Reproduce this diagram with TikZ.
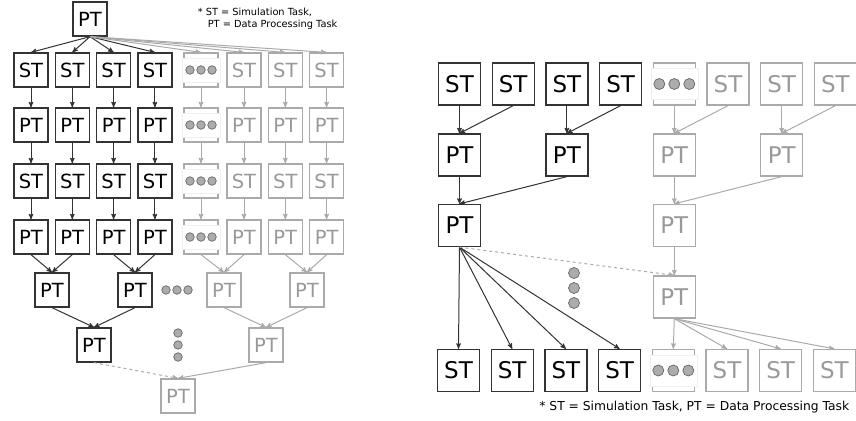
\documentclass[tikz,border=0pt]{standalone}
\usepackage{fontspec}
\setmainfont{DejaVu Sans}
\usepackage{tikz}
\usetikzlibrary{arrows,positioning}

\definecolor{ink}{HTML}{333333}
\definecolor{ghost}{HTML}{AAAAAA}
\definecolor{ghosttext}{HTML}{999999}

\begin{document}
\begin{tikzpicture}[x=1pt,y=1pt,>=stealth',line width=1pt]
        \tikzstyle{box}=[draw=ink,line width=1.3pt,minimum size=34pt,inner sep=0pt,font=\fontsize{19.5}{20}\selectfont]
        \tikzstyle{bigbox}=[box,minimum size=42pt,font=\fontsize{23}{24}\selectfont]
        \tikzstyle{faded}=[draw=ghost,text=ghosttext]
        \tikzstyle{blank}=[box,faded]
        \tikzstyle{bigblank}=[bigbox,faded]
        \tikzstyle{arr}=[->,color=ink]
        \tikzstyle{garr}=[->,color=ghost]
        \tikzstyle{dot}=[circle,draw=gray!80!black,fill=gray!65,line width=0.7pt,inner sep=0pt]
        \tikzstyle{hole}=[draw=gray!12,fill=white,line width=0.5pt,inner sep=0pt]

        \useasboundingbox (0,0) rectangle (856,-420);

        % left: tree of tasks
        \node[box]    (L00) at (90,-19)           {PT};
        \node[anchor=west,font=\fontsize{9.8}{10}\selectfont] (N01) at (194,-12) {* ST = Simulation Task,};
        \node[anchor=west,font=\fontsize{9.8}{10}\selectfont] (N02) at (204,-25) {PT = Data Processing Task};

        \begin{scope}[node distance=41.3]
        \node[box]    (L11) at (31,-70)           {ST};
        \node[box]    (L12) [right of=L11]        {ST};
        \node[box]    (L13) [right of=L12]        {ST};
        \node[box]    (L14) [right of=L13]        {ST};
        \node[blank]  (L15) at (201,-70)          { }; % dots
        \node[blank]  (L16) at (244,-70)          {ST};
        \node[blank]  (L17) [right of=L16]        {ST};
        \node[blank]  (L18) [right of=L17]        {ST};

        \node[box]    (L21) at (31,-125)          {PT};
        \node[box]    (L22) [right of=L21]        {PT};
        \node[box]    (L23) [right of=L22]        {PT};
        \node[box]    (L24) [right of=L23]        {PT};
        \node[blank]  (L25) at (201,-125)         { }; % dots
        \node[blank]  (L26) at (244,-125)         {PT};
        \node[blank]  (L27) [right of=L26]        {PT};
        \node[blank]  (L28) [right of=L27]        {PT};

        \node[box]    (L31) at (31,-181)          {ST};
        \node[box]    (L32) [right of=L31]        {ST};
        \node[box]    (L33) [right of=L32]        {ST};
        \node[box]    (L34) [right of=L33]        {ST};
        \node[blank]  (L35) at (201,-181)         { }; % dots
        \node[blank]  (L36) at (244,-181)         {ST};
        \node[blank]  (L37) [right of=L36]        {ST};
        \node[blank]  (L38) [right of=L37]        {ST};

        \node[box]    (L41) at (31,-237)          {PT};
        \node[box]    (L42) [right of=L41]        {PT};
        \node[box]    (L43) [right of=L42]        {PT};
        \node[box]    (L44) [right of=L43]        {PT};
        \node[blank]  (L45) at (201,-237)         { }; % dots
        \node[blank]  (L46) at (244,-237)         {PT};
        \node[blank]  (L47) [right of=L46]        {PT};
        \node[blank]  (L48) [right of=L47]        {PT};
        \end{scope}

        \node[box]    (L51) at (52,-290)          {PT};
        \node[box]    (L52) at (135,-290)         {PT};
        \node[blank]  (L53) at (224,-290)         {PT};
        \node[blank]  (L54) at (307,-290)         {PT};
        \node[box]    (L61) at (94,-345)          {PT};
        \node[blank]  (L62) at (266,-345)         {PT};
        \node[blank]  (L71) at (178,-396)         {PT};

        % dots over the faded columns
        \foreach \n in {L15,L25,L35,L45} {
          \node[hole,minimum width=38pt,minimum height=24pt] at (\n) {};
          \node[dot,minimum size=8.5pt] at ([xshift=-11pt]\n.center) {};
          \node[dot,minimum size=8.5pt] at (\n.center) {};
          \node[dot,minimum size=8.5pt] at ([xshift=11pt]\n.center) {};
        }
        \node[dot,minimum size=8.5pt] (D01) at (166,-290) {};
        \node[dot,minimum size=8.5pt] (D02) at (177,-290) {};
        \node[dot,minimum size=8.5pt] (D03) at (188,-290) {};
        \node[dot,minimum size=8.5pt] (D04) at (178,-333) {};
        \node[dot,minimum size=8.5pt] (D05) at (178,-345) {};
        \node[dot,minimum size=8.5pt] (D06) at (178,-357) {};

        \path[arr]
                  (L00.south) edge (L11.north)
                              edge (L12.north)
                              edge (L13.north)
                              edge (L14.north)
                  (L11) edge (L21) (L21) edge (L31) (L31) edge (L41)
                  (L12) edge (L22) (L22) edge (L32) (L32) edge (L42)
                  (L13) edge (L23) (L23) edge (L33) (L33) edge (L43)
                  (L14) edge (L24) (L24) edge (L34) (L34) edge (L44)
                  (L41.south) edge (L51.north)
                  (L42.south) edge (L51.north)
                  (L43.south) edge (L52.north)
                  (L44.south) edge (L52.north)
                  (L51.south) edge (L61.north)
                  (L52.south) edge (L61.north);
        \path[garr]
                  (L00.south) edge (L15.north)
                              edge (L16.north)
                              edge (L17.north)
                              edge (L18.north)
                  (L15) edge (L25) (L25) edge (L35) (L35) edge (L45)
                  (L16) edge (L26) (L26) edge (L36) (L36) edge (L46)
                  (L17) edge (L27) (L27) edge (L37) (L37) edge (L47)
                  (L18) edge (L28) (L28) edge (L38) (L38) edge (L48)
                  (L45.south) edge (L53.north)
                  (L46.south) edge (L53.north)
                  (L47.south) edge (L54.north)
                  (L48.south) edge (L54.north)
                  (L53.south) edge (L62.north)
                  (L54.south) edge (L62.north)
                  (L62.south) edge (L71.north)
                  (L61.south) edge [dashed] (L71.north);

        % right: chain of tasks
        \begin{scope}[node distance=53.7]
        \node[bigbox]   (R11) at (459.5,-84)      {ST};
        \node[bigbox]   (R12) [right of=R11]      {ST};
        \node[bigbox]   (R13) [right of=R12]      {ST};
        \node[bigbox]   (R14) [right of=R13]      {ST};
        \node[bigblank] (R15) [right of=R14]      { }; % dots
        \node[bigblank] (R16) [right of=R15]      {ST};
        \node[bigblank] (R17) [right of=R16]      {ST};
        \node[bigblank] (R18) [right of=R17]      {ST};

        \node[bigbox]   (R21) at (R11 |- 0,-155)  {PT};
        \node[bigbox]   (R22) at (R13 |- R21)     {PT};
        \node[bigblank] (R23) at (R15 |- R21)     {PT};
        \node[bigblank] (R24) at (R17 |- R21)     {PT};

        \node[bigbox]   (R31) at (R11 |- 0,-225.5) {PT};
        \node[bigblank] (R32) at (R15 |- R31)     {PT};
        \node[bigblank] (R41) at (R15 |- 0,-297)  {PT};

        \node[bigbox]   (R51) at (458.5,-370.5)   {ST};
        \node[bigbox]   (R52) [right of=R51]      {ST};
        \node[bigbox]   (R53) [right of=R52]      {ST};
        \node[bigbox]   (R54) [right of=R53]      {ST};
        \node[bigblank] (R55) [right of=R54]      { }; % dots
        \node[bigblank] (R56) [right of=R55]      {ST};
        \node[bigblank] (R57) [right of=R56]      {ST};
        \node[bigblank] (R58) [right of=R57]      {ST};
        \end{scope}

        \foreach \n in {R15,R55} {
          \node[hole,minimum width=47pt,minimum height=31pt] at (\n) {};
          \node[dot,minimum size=11pt] at ([xshift=-15pt]\n.center) {};
          \node[dot,minimum size=11pt] at (\n.center) {};
          \node[dot,minimum size=11pt] at ([xshift=15pt]\n.center) {};
        }
        \node[dot,minimum size=11pt] (D11) at (574,-273) {};
        \node[dot,minimum size=11pt] (D12) at (574,-288) {};
        \node[dot,minimum size=11pt] (D13) at (574,-303) {};

        \node[anchor=east,font=\fontsize{12.3}{13}\selectfont] (N03) at (853,-407)
                {* ST = Simulation Task, PT = Data Processing Task};

        \path[arr]
                  (R11.south) edge (R21.north)
                  (R12.south) edge (R21.north)
                  (R13.south) edge (R22.north)
                  (R14.south) edge (R22.north)
                  (R21.south) edge (R31.north)
                  (R22.south) edge (R31.north)
                  (R31.south) edge (R51.north)
                              edge (R52.north)
                              edge (R53.north)
                              edge (R54.north);
        \path[garr]
                  (R15.south) edge (R23.north)
                  (R16.south) edge (R23.north)
                  (R17.south) edge (R24.north)
                  (R18.south) edge (R24.north)
                  (R23.south) edge (R32.north)
                  (R24.south) edge (R32.north)
                  (R32.south) edge (R41.north)
                  (R31.south) edge [dashed] (R41.north)
                  (R41.south) edge (R55.north)
                              edge (R56.north)
                              edge (R57.north)
                              edge (R58.north);
\end{tikzpicture}
\end{document}
